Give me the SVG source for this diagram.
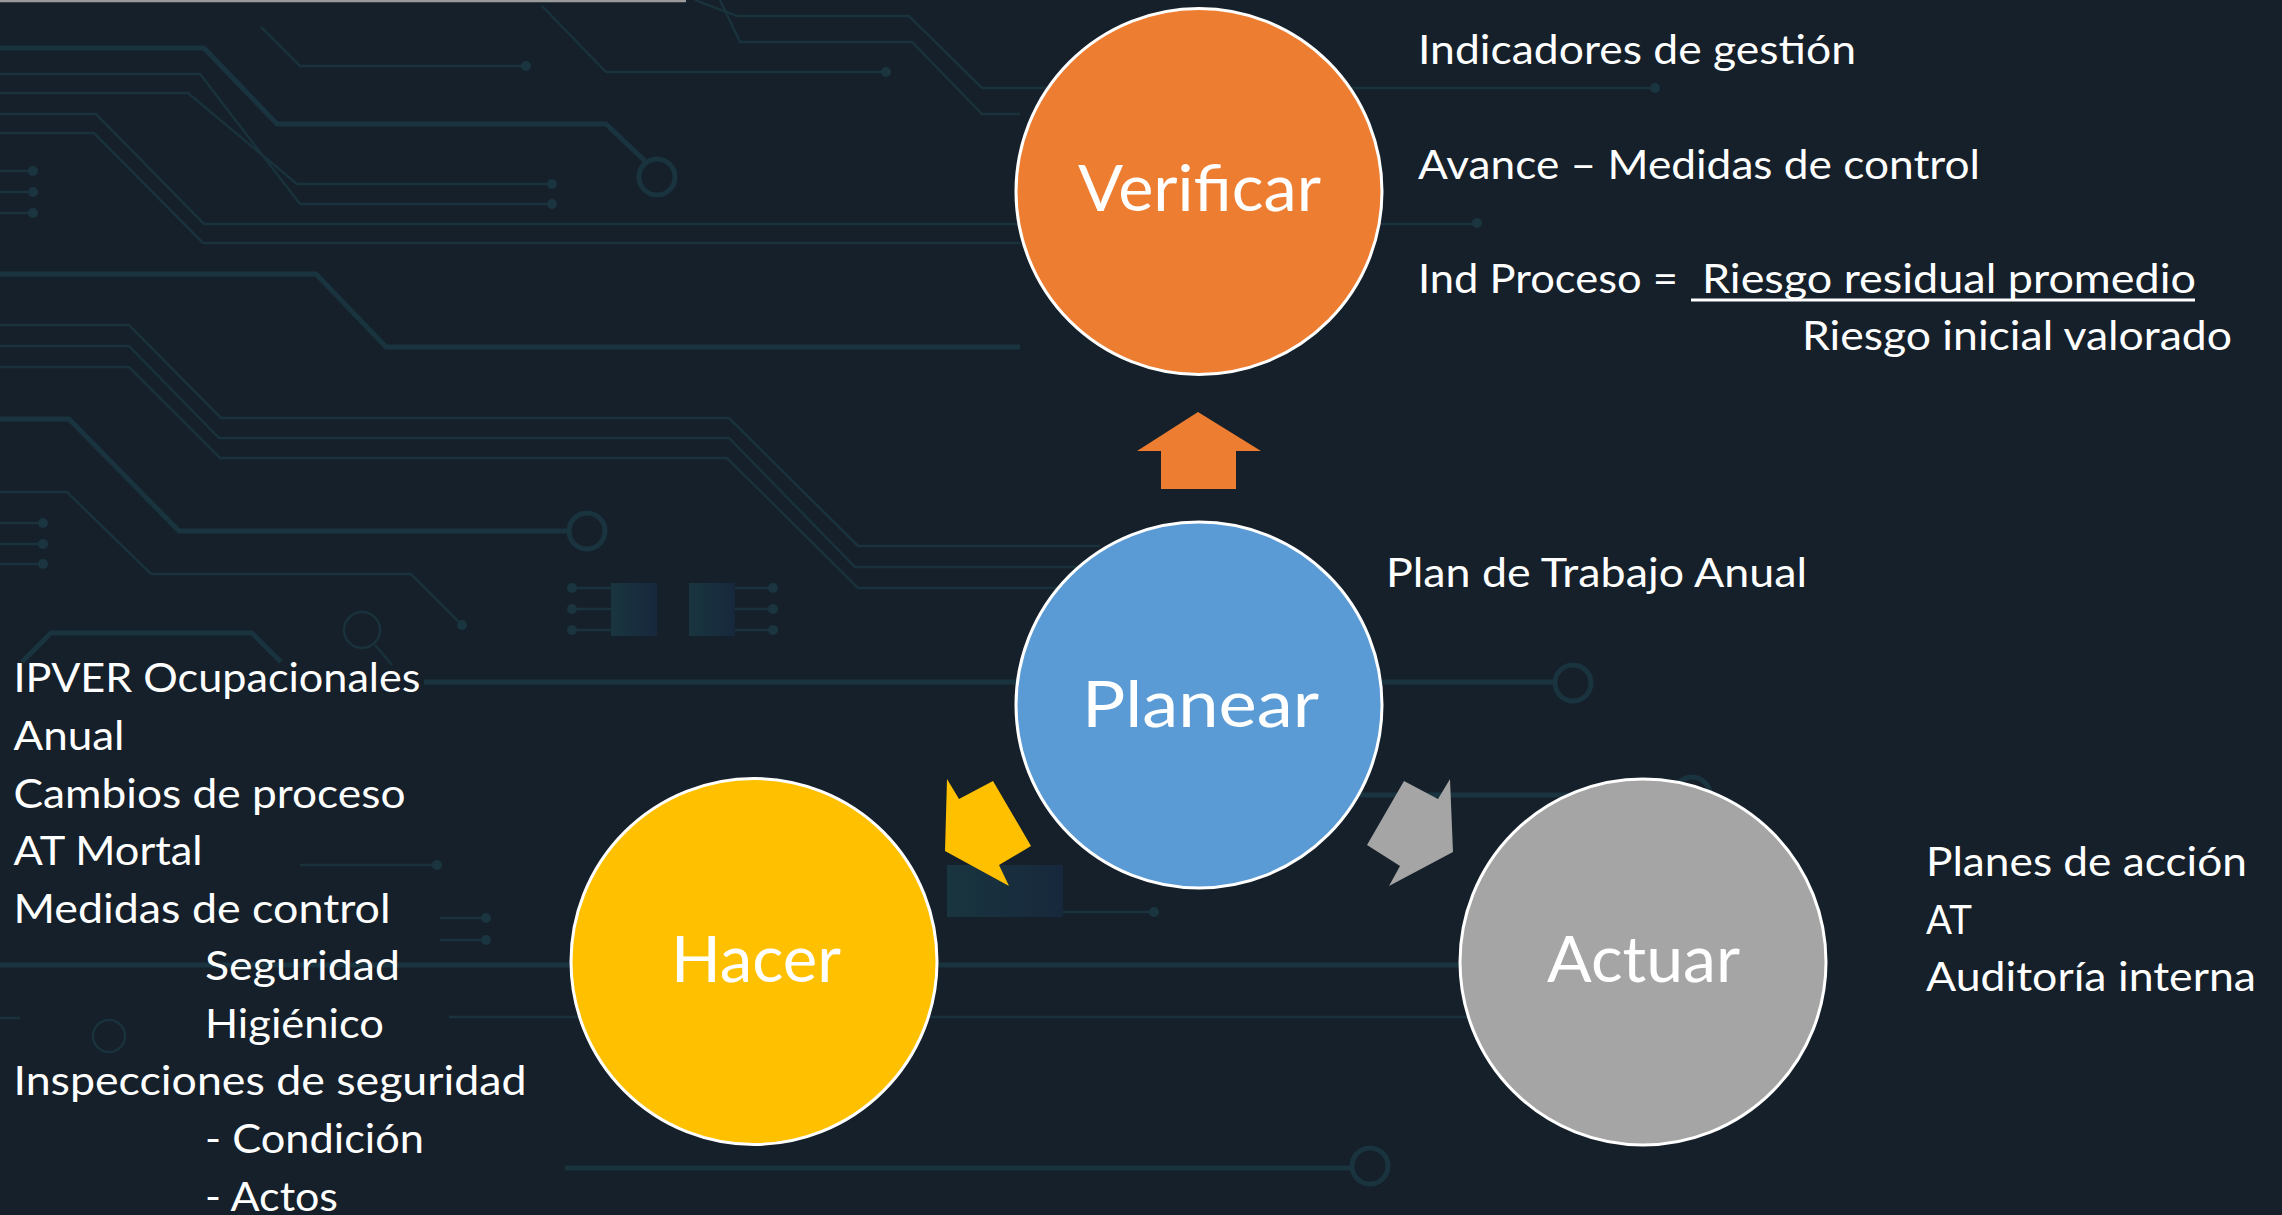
<svg xmlns="http://www.w3.org/2000/svg" width="2282" height="1215" viewBox="0 0 2282 1215">
<style>
.bg{fill:#15202a}
.tr{fill:none;stroke:#19323c;stroke-width:2.5}
.tk{fill:none;stroke:#19333f;stroke-width:5}
.dot{fill:#1a3540}
.node{stroke:#ffffff;stroke-width:3}
.lbl{font-family:Lato,"Open Sans","Liberation Sans",sans-serif;font-size:64px;fill:#ffffff}
.txt{font-family:Lato,"Open Sans","Liberation Sans",sans-serif;font-size:40px;fill:#ffffff}
</style>
<defs>
<linearGradient id="chip" x1="0" y1="0" x2="1" y2="0">
<stop offset="0" stop-color="#19353f"/>
<stop offset="1" stop-color="#17283c"/>
</linearGradient>
</defs>
<rect class="bg" x="0" y="0" width="2282" height="1215"/>
<g id="background">
<line x1="0" y1="1" x2="686" y2="1" stroke="#9a9a9a" stroke-width="2.5"/>
<path class="tr" d="M0,74 H200 L300,204 H552"/>
<path class="tr" d="M0,93 H188 L297,184 H552"/>
<path class="tr" d="M0,114 H96 L204,224 H1477"/>
<path class="tr" d="M0,133 H94 L203,243 H1020"/>
<path class="tr" d="M261,27 L300,66 H526"/>
<path class="tr" d="M542,6 L606,72 H886"/>
<path class="tr" d="M695,0 L737,16 H909 L982,88 H1655"/>
<path class="tr" d="M720,0 L740,42 H912 L982,114 H1020"/>
<path class="tr" d="M0,325 H129 L221,418 H729 L858,546 H1100"/>
<path class="tr" d="M0,346 H129 L219,438 H729 L855,567 H1100"/>
<path class="tr" d="M0,367 H129 L220,458 H727 L858,588 H1100"/>
<path class="tr" d="M0,492 H67 L151,574 H411 L462,625"/>
<path class="tr" d="M0,171 H33 M0,192 H33 M0,213 H33 M0,523 H43 M0,544 H43 M0,564 H43"/>
<path class="tr" d="M300,865 H437 M440,918 H486 M440,940 H486 M1063,912 H1154 M572,588 H611 M572,609 H611 M572,630 H611 M735,588 H773 M735,609 H773 M735,630 H773"/>
<path class="tr" d="M375,645 L392,665"/>
<path class="tr" d="M449,1017 H1480 M0,1018 H20"/>
<path class="tk" d="M0,48 H204 L277,124 H606 L645,161"/>
<path class="tk" d="M0,274 H316 L386,347 H1020"/>
<path class="tk" d="M0,419 H69 L179,531 H569"/>
<path class="tk" d="M22,662 L51,633 H252 L281,662"/>
<path class="tk" d="M424,682 H1555"/>
<path class="tk" d="M1360,795 H1674"/>
<path class="tk" d="M0,965 H1470"/>
<path class="tk" d="M565,1168 H1352"/>
<circle cx="657" cy="177" r="18" class="tk"/>
<circle cx="587" cy="531" r="18" class="tk"/>
<circle cx="362" cy="630" r="18" class="tr" stroke-width="4"/>
<circle cx="1573" cy="683" r="18" class="tk"/>
<circle cx="1692" cy="795" r="18" class="tk"/>
<circle cx="1370" cy="1166" r="18" class="tk"/>
<circle cx="109" cy="1036" r="16" class="tr" stroke-width="4"/>
<circle class="dot" cx="552" cy="184" r="5"/>
<circle class="dot" cx="552" cy="204" r="5"/>
<circle class="dot" cx="1477" cy="223" r="5"/>
<circle class="dot" cx="526" cy="66" r="5"/>
<circle class="dot" cx="886" cy="72" r="5"/>
<circle class="dot" cx="1655" cy="88" r="5"/>
<circle class="dot" cx="462" cy="625" r="5"/>
<circle class="dot" cx="33" cy="171" r="5"/>
<circle class="dot" cx="33" cy="192" r="5"/>
<circle class="dot" cx="33" cy="213" r="5"/>
<circle class="dot" cx="43" cy="523" r="5"/>
<circle class="dot" cx="43" cy="544" r="5"/>
<circle class="dot" cx="43" cy="564" r="5"/>
<circle class="dot" cx="437" cy="865" r="5"/>
<circle class="dot" cx="486" cy="918" r="5"/>
<circle class="dot" cx="486" cy="940" r="5"/>
<circle class="dot" cx="1154" cy="912" r="5"/>
<circle class="dot" cx="572" cy="588" r="5"/>
<circle class="dot" cx="572" cy="609" r="5"/>
<circle class="dot" cx="572" cy="630" r="5"/>
<circle class="dot" cx="773" cy="588" r="5"/>
<circle class="dot" cx="773" cy="609" r="5"/>
<circle class="dot" cx="773" cy="630" r="5"/>
<rect x="611" y="583" width="46" height="53" fill="url(#chip)"/>
<rect x="689" y="583" width="46" height="53" fill="url(#chip)"/>
<rect x="947" y="865" width="116" height="52" fill="url(#chip)"/>
</g>
<g id="connectors">
<polygon id="arrow-planear-verificar" fill="#ED7D31" points="1198,412 1261,451 1236,451 1236,489 1161,489 1161,451 1137,451"/>
<polygon id="arrow-planear-hacer" fill="#FFC000" points="947,779 959,799 993,781 1031,846 999,865 1009,886 945,851"/>
<polygon id="arrow-planear-actuar" fill="#A5A5A5" points="1450,779 1438,799 1404,781 1367,845 1400,866 1389,886 1453,852"/>
</g>
<g id="node-verificar">
<circle class="node" cx="1199" cy="191.5" r="183" fill="#ED7D31"/>
<text class="lbl" x="1078" y="211" textLength="243" lengthAdjust="spacingAndGlyphs">Verificar</text>
</g>
<g id="node-planear">
<circle class="node" cx="1199" cy="705" r="183" fill="#5B9BD5"/>
<text class="lbl" x="1082" y="727" textLength="237" lengthAdjust="spacingAndGlyphs">Planear</text>
</g>
<g id="node-hacer">
<circle class="node" cx="754" cy="961.5" r="183" fill="#FFC000"/>
<text class="lbl" x="671" y="982" textLength="170" lengthAdjust="spacingAndGlyphs">Hacer</text>
</g>
<g id="node-actuar">
<circle class="node" cx="1643" cy="962" r="183" fill="#A5A5A5"/>
<text class="lbl" x="1547" y="982" textLength="193" lengthAdjust="spacingAndGlyphs">Actuar</text>
</g>
<g id="notes-verificar">
<text class="txt" x="1418" y="64" textLength="438" lengthAdjust="spacingAndGlyphs">Indicadores de gestión</text>
<text class="txt" x="1418" y="179" textLength="562" lengthAdjust="spacingAndGlyphs">Avance – Medidas de control</text>
<text class="txt" x="1418" y="293" textLength="260" lengthAdjust="spacingAndGlyphs">Ind Proceso =</text>
<text class="txt" x="1702" y="293" textLength="494" lengthAdjust="spacingAndGlyphs">Riesgo residual promedio</text>
<rect x="1691" y="298.5" width="504" height="3" fill="#ffffff"/>
<text class="txt" x="1802" y="350" textLength="430" lengthAdjust="spacingAndGlyphs">Riesgo inicial valorado</text>
</g>
<g id="notes-planear">
<text class="txt" x="1386" y="586.5" textLength="421" lengthAdjust="spacingAndGlyphs">Plan de Trabajo Anual</text>
</g>
<g id="notes-actuar">
<text class="txt" x="1926" y="876" textLength="321" lengthAdjust="spacingAndGlyphs">Planes de acción</text>
<text class="txt" x="1926" y="933.5" textLength="46" lengthAdjust="spacingAndGlyphs">AT</text>
<text class="txt" x="1926" y="991" textLength="330" lengthAdjust="spacingAndGlyphs">Auditoría interna</text>
</g>
<g id="notes-hacer">
<text class="txt" x="13.5" y="692" textLength="407" lengthAdjust="spacingAndGlyphs">IPVER Ocupacionales</text>
<text class="txt" x="13.5" y="750" textLength="111" lengthAdjust="spacingAndGlyphs">Anual</text>
<text class="txt" x="13.5" y="807.5" textLength="392" lengthAdjust="spacingAndGlyphs">Cambios de proceso</text>
<text class="txt" x="13.5" y="864.5" textLength="189" lengthAdjust="spacingAndGlyphs">AT Mortal</text>
<text class="txt" x="13.5" y="922.5" textLength="377" lengthAdjust="spacingAndGlyphs">Medidas de control</text>
<text class="txt" x="205" y="980" textLength="195" lengthAdjust="spacingAndGlyphs">Seguridad</text>
<text class="txt" x="205" y="1038" textLength="179" lengthAdjust="spacingAndGlyphs">Higiénico</text>
<text class="txt" x="13.5" y="1095" textLength="513" lengthAdjust="spacingAndGlyphs">Inspecciones de seguridad</text>
<text class="txt" x="205" y="1153" textLength="219" lengthAdjust="spacingAndGlyphs">- Condición</text>
<text class="txt" x="205" y="1210.5" textLength="133" lengthAdjust="spacingAndGlyphs">- Actos</text>
</g>
</svg>
